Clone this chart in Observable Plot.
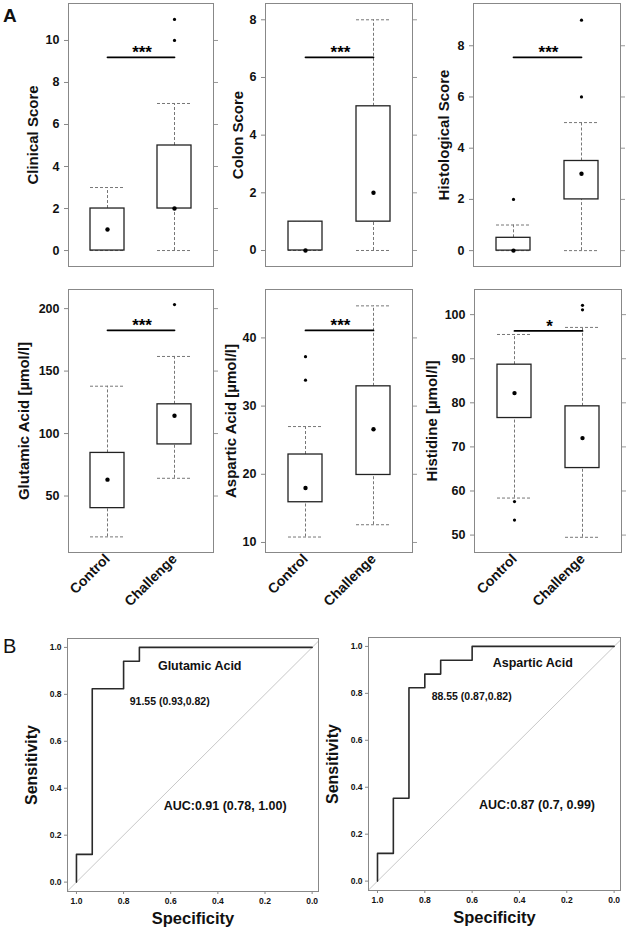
<!DOCTYPE html>
<html><head><meta charset="utf-8">
<script src="https://cdn.jsdelivr.net/npm/d3@7"></script>
<script src="https://cdn.jsdelivr.net/npm/@observablehq/plot@0.6"></script>
<style>
body{margin:0;background:#fff;}
#fig{position:relative;width:628px;height:930px;background:#fff;font-family:"Liberation Sans",Arial,sans-serif;overflow:hidden}
#fig svg{position:absolute;overflow:visible}
.lab{position:absolute;line-height:1;color:#111}
</style></head><body>
<div id="fig">
 <div class="lab" style="left:3px;top:6px;font-size:19px;font-weight:bold">A</div>
 <div class="lab" style="left:3px;top:636px;font-size:20px;font-weight:normal">B</div>
</div>
<script>
const FONT = '"Liberation Sans", Arial, sans-serif';
const groups = ["Control", "Challenge"];

// ---- Panel A: box-plot summaries (lower whisker, Q1, median, Q3, upper whisker)
const clinicalBox = [
  {group: "Control", lo: 0, q1: 0, med: 1, q3: 2, hi: 3},
  {group: "Challenge", lo: 0, q1: 2, med: 2, q3: 5, hi: 7}
];
const clinicalOut = [{group: "Challenge", v: 10}, {group: "Challenge", v: 11}];

const colonBox = [
  {group: "Control", lo: 0, q1: 0, med: 0, q3: 1, hi: 1},
  {group: "Challenge", lo: 0, q1: 1, med: 2, q3: 5, hi: 8}
];
const colonOut = [];

const histoBox = [
  {group: "Control", lo: 0, q1: 0, med: 0, q3: 0.5, hi: 1},
  {group: "Challenge", lo: 0, q1: 2, med: 3, q3: 3.5, hi: 5}
];
const histoOut = [{group: "Control", v: 2}, {group: "Challenge", v: 6}, {group: "Challenge", v: 9}];

const gluBox = [
  {group: "Control", lo: 17.3, q1: 40.3, med: 63.1, q3: 84.5, hi: 137.9},
  {group: "Challenge", lo: 64.2, q1: 91.3, med: 114.3, q3: 123.4, hi: 161.7}
];
const gluOut = [{group: "Challenge", v: 203.2}];

const aspBox = [
  {group: "Control", lo: 10.8, q1: 15.9, med: 18.0, q3: 22.9, hi: 27.0},
  {group: "Challenge", lo: 12.6, q1: 19.9, med: 26.6, q3: 32.9, hi: 44.7}
];
const aspOut = [{group: "Control", v: 33.8}, {group: "Control", v: 37.25}];

const hisBox = [
  {group: "Control", lo: 58.4, q1: 76.55, med: 82.2, q3: 88.65, hi: 95.5},
  {group: "Challenge", lo: 49.5, q1: 65.2, med: 72.0, q3: 79.2, hi: 97.1}
];
const hisOut = [{group: "Control", v: 57.6}, {group: "Control", v: 53.4},
                {group: "Challenge", v: 101.1}, {group: "Challenge", v: 102.1}];

const boxLabels = ["Clinical Score", "Colon Score", "Histological Score",
                   "Glutamic Acid [µmol/l]", "Aspartic Acid [µmol/l]", "Histidine [µmol/l]"];
const boxTicks = [[0, 2, 4, 6, 8, 10], [0, 2, 4, 6, 8], [0, 2, 4, 6, 8],
                  [50, 100, 150, 200], [10, 20, 30, 40], [50, 60, 70, 80, 90, 100]];
const boxDomains = [[-0.76, 11.76], [-0.555, 8.565], [-0.62, 9.65],
                    [4.8, 215.3], [8.53, 47.1], [46.05, 105.7]];
const sigLevel = [9.2, 6.7, 7.55, 182.6, 41.1, 96.3];
const sigStars = ["***", "***", "***", "***", "***", "*"];

// ---- Panel B: ROC curves (specificity, sensitivity)
const gluSpec = [1, 1, 0.933, 0.933, 0.8, 0.8, 0.733, 0.733, 0];
const gluSens = [0, 0.118, 0.118, 0.824, 0.824, 0.941, 0.941, 1, 1];
const aspSpec = [1, 1, 0.933, 0.933, 0.867, 0.867, 0.8, 0.8, 0.733, 0.733, 0.6, 0.6, 0];
const aspSens = [0, 0.118, 0.118, 0.353, 0.353, 0.824, 0.824, 0.882, 0.882, 0.941, 0.941, 1, 1];
const rocTitles = ["Glutamic Acid", "Aspartic Acid"];
const rocThres = ["91.55 (0.93,0.82)", "88.55 (0.87,0.82)"];
const rocAUC = ["AUC:0.91 (0.78, 1.00)", "AUC:0.87 (0.7, 0.99)"];
const rocTicks = [0, 0.2, 0.4, 0.6, 0.8, 1.0];

// ---- layout (frame boxes in page pixels)
const boxFrames = [[68, 3, 213, 266], [265, 3, 412, 266], [473, 3, 620, 266],
                   [68, 289, 213, 552], [265, 289, 412, 552], [474, 289, 621, 552]];
const labelDx = [-35, -27, -29, -44, -34, -42];
const rocFrames = [[67, 638, 318, 891], [368, 637, 620, 890]];
const rocTitlePos = [[0.477, 0.922], [0.344, 0.93]];
const rocThresPos = [[0.774, 0.77], [0.771, 0.785]];
const rocAUCPos = [[0.63, 0.326], [0.571, 0.323]];

const fig = document.getElementById("fig");

function place(svg, left, top) {
  svg.style.left = left + "px";
  svg.style.top = top + "px";
  fig.appendChild(svg);
}

function boxPanel(i, box, out) {
  const [fl, ft, fr, fb] = boxFrames[i];
  const bottomRow = i >= 3;
  const ML = 70, MR = 12, MT = 10, MB = bottomRow ? 75 : 12;
  const W = fr - fl;
  const halfStep = W / 2.16 / 2;
  const sig = sigLevel[i];
  const marks = [
    Plot.axisY({ticks: boxTicks[i], tickSize: 4, tickPadding: 5, fontSize: 12.5, fontWeight: "bold",
                stroke: "#888", fill: "#111", label: null}),
    Plot.axisY({anchor: "right", ticks: boxTicks[i], tickSize: 4, tickFormat: () => "", stroke: "#999", label: null}),
    Plot.ruleX(box, {x: "group", y1: "q3", y2: "hi", stroke: "#777", strokeDasharray: "3,2"}),
    Plot.ruleX(box, {x: "group", y1: "lo", y2: "q1", stroke: "#777", strokeDasharray: "3,2"}),
    Plot.tickY(box, {x: "group", y: "hi", stroke: "#777", strokeDasharray: "3,2"}),
    Plot.tickY(box, {x: "group", y: "lo", stroke: "#777", strokeDasharray: "3,2"}),
    Plot.barY(box, {x: "group", y1: "q1", y2: "q3", fill: "white", stroke: "#222", strokeWidth: 1.3}),
    Plot.dot(box, {x: "group", y: "med", r: 2.2, fill: "#000"}),
    Plot.dot(out, {x: "group", y: "v", r: 1.6, fill: "#000"}),
    Plot.line(groups, {x: (d) => d, y: () => sig, stroke: "#000", strokeWidth: 1.8}),
    Plot.text([sigStars[i]], {x: () => groups[0], y: () => sig, dx: halfStep + 1, dy: 1, lineAnchor: "bottom",
              fontSize: 17, fontWeight: "bold", fill: "#000"}),
    Plot.text([boxLabels[i]], {frameAnchor: "left", textAnchor: "middle", lineAnchor: "middle", rotate: -90,
              dx: labelDx[i], fontSize: 15, fontWeight: "bold", fill: "#111"}),
    Plot.frame({stroke: "#888"})
  ];
  if (bottomRow) {
    marks.push(Plot.axisX({tickRotate: -45, tickSize: 0, tickPadding: 4, fontSize: 14, fontWeight: "bold",
                           fill: "#111", label: null}));
  }
  const svg = Plot.plot({
    width: ML + W + MR, height: MT + (fb - ft) + MB,
    marginLeft: ML, marginRight: MR, marginTop: MT, marginBottom: MB,
    style: {fontFamily: FONT, overflow: "visible", background: "transparent"},
    x: {type: "band", domain: groups, paddingInner: 0.5, paddingOuter: 0.33, align: 0.5, axis: bottomRow ? undefined : null},
    y: {domain: boxDomains[i]},
    marks
  });
  place(svg, fl - ML, ft - MT);
}

function rocPanel(i, spec, sens) {
  const [fl, ft, fr, fb] = rocFrames[i];
  const ML = 70, MR = 6, MT = 8, MB = 40;
  const xDomain = [1.038, -0.027];
  const curve = spec.map((s, k) => ({spec: s, sens: sens[k]}));
  const diag = xDomain.map((s) => ({spec: s, sens: 1 - s}));
  const svg = Plot.plot({
    width: ML + (fr - fl) + MR, height: MT + (fb - ft) + MB,
    marginLeft: ML, marginRight: MR, marginTop: MT, marginBottom: MB,
    style: {fontFamily: FONT, overflow: "visible", background: "transparent"},
    x: {domain: xDomain},
    y: {domain: [-0.04, 1.038]},
    marks: [
      Plot.axisY({ticks: rocTicks, tickFormat: ".1f", tickSize: 3, tickPadding: 3, fontSize: 8.5, fontWeight: "bold",
                  stroke: "#888", fill: "#111", label: null}),
      Plot.axisX({ticks: rocTicks, tickFormat: ".1f", tickSize: 3, tickPadding: 3, fontSize: 8.5, fontWeight: "bold",
                  stroke: "#888", fill: "#111", label: null}),
      Plot.line(diag, {x: "spec", y: "sens", stroke: "#c8c8c8", strokeWidth: 1}),
      Plot.line(curve, {x: "spec", y: "sens", stroke: "#2a2a2a", strokeWidth: 1.6}),
      Plot.text([rocTitles[i]], {x: () => rocTitlePos[i][0], y: () => rocTitlePos[i][1], fontSize: 12.5,
                fontWeight: "bold", fill: "#111"}),
      Plot.text([rocThres[i]], {x: () => rocThresPos[i][0], y: () => rocThresPos[i][1], textAnchor: "start",
                fontSize: 10.5, fontWeight: "bold", fill: "#111"}),
      Plot.text([rocAUC[i]], {x: () => rocAUCPos[i][0], y: () => rocAUCPos[i][1], textAnchor: "start",
                fontSize: 12.5, fontWeight: "bold", fill: "#111"}),
      Plot.text(["Sensitivity"], {frameAnchor: "left", textAnchor: "middle", lineAnchor: "middle", rotate: -90,
                dx: -36, fontSize: 16, fontWeight: "bold", fill: "#111"}),
      Plot.text(["Specificity"], {frameAnchor: "bottom", textAnchor: "middle", lineAnchor: "middle",
                dy: 27, fontSize: 16.5, fontWeight: "bold", fill: "#111"}),
      Plot.frame({stroke: "#888"})
    ]
  });
  place(svg, fl - ML, ft - MT);
}

boxPanel(0, clinicalBox, clinicalOut);
boxPanel(1, colonBox, colonOut);
boxPanel(2, histoBox, histoOut);
boxPanel(3, gluBox, gluOut);
boxPanel(4, aspBox, aspOut);
boxPanel(5, hisBox, hisOut);
rocPanel(0, gluSpec, gluSens);
rocPanel(1, aspSpec, aspSens);
</script>
</body></html>
